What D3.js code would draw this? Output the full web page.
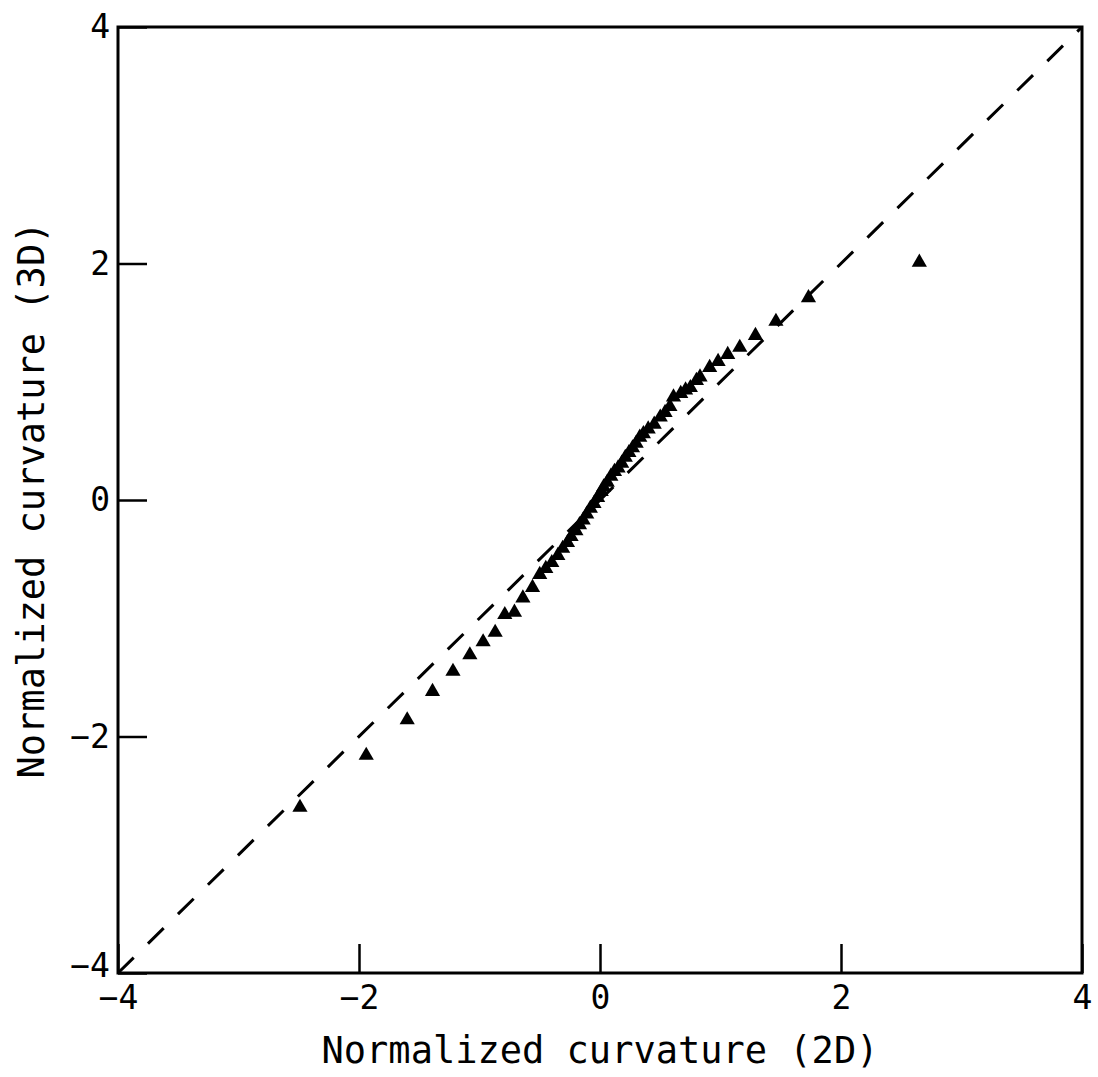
<!DOCTYPE html>
<meta charset="utf-8">
<style>
body { margin: 0; background: #fff; }
svg { display: block; }
.axis text {
  font-family: "DejaVu Sans Mono", monospace;
  font-size: 33px;
  fill: #000;
}
.axis line { stroke: #000; stroke-width: 2.5px; }
.axis .domain { display: none; }
.title {
  font-family: "DejaVu Sans Mono", monospace;
  font-size: 37px;
  fill: #000;
}
</style>
<html>
  <head>
    <script src="https://cdn.jsdelivr.net/npm/d3@7"></script>
  </head>
  <body>
    <script>
var width = 1098
  , height = 1077
  , margin = {top: 27, right: 16, bottom: 104, left: 118}

// tick values used on both axes
var tickVals = [-4, -2, 0, 2, 4];

// 2D curvature (x) against 3D curvature (y)
var curv2D = [2.65, 1.73, 1.46, 1.29, 1.16, 1.06, 0.98, 0.91, 0.83, 0.80, 0.75, 0.71, 0.67, 0.61,
              0.58, 0.54, 0.50, 0.45, 0.40, 0.36, 0.33, 0.30, 0.27, 0.24, 0.21, 0.18, 0.15, 0.12,
              0.09, 0.06, 0.03, 0.01, -0.02, -0.05, -0.08, -0.11, -0.14, -0.17, -0.20, -0.24,
              -0.27, -0.31, -0.35, -0.40, -0.45, -0.50, -0.56, -0.64, -0.71, -0.79, -0.87,
              -0.97, -1.08, -1.22, -1.39, -1.60, -1.94, -2.49];
var curv3D = [2.01, 1.71, 1.51, 1.39, 1.29, 1.23, 1.17, 1.12, 1.04, 1.01, 0.95, 0.93, 0.90, 0.87,
              0.79, 0.74, 0.70, 0.64, 0.60, 0.56, 0.53, 0.48, 0.44, 0.40, 0.36, 0.31, 0.27, 0.24,
              0.20, 0.15, 0.11, 0.07, 0.02, -0.03, -0.07, -0.12, -0.17, -0.21, -0.26, -0.31,
              -0.36, -0.41, -0.47, -0.53, -0.58, -0.63, -0.74, -0.83, -0.95, -0.97, -1.12,
              -1.20, -1.31, -1.45, -1.62, -1.86, -2.16, -2.60];

// the dashed reference line y = x
var refLine = [[-4, -4], [4, 4]];

var svg = d3.select("body").append("svg")
    .attr("width", width)
    .attr("height", height);

var x = d3.scaleLinear().domain([-4, 4]).range([margin.left, width - margin.right]);
var y = d3.scaleLinear().domain([-4, 4]).range([height - margin.bottom, margin.top]);

// axes, ticks point inward
svg.append("g")
    .attr("class", "axis")
    .attr("transform", "translate(0," + y(-4) + ")")
    .call(d3.axisBottom(x).tickValues(tickVals).tickSize(-29).tickPadding(13));

var yAxis = svg.append("g")
    .attr("class", "axis")
    .attr("transform", "translate(" + x(-4) + ",0)")
    .call(d3.axisLeft(y).tickValues(tickVals).tickSize(-29).tickPadding(8));

// lift the bottom y label a touch so it clears the x label below it
yAxis.selectAll(".tick text")
    .filter(function(d) { return d === -4; })
    .attr("dy", "0.1em");

// frame
svg.append("rect")
    .attr("x", x(-4)).attr("y", y(4))
    .attr("width", x(4) - x(-4)).attr("height", y(-4) - y(4))
    .attr("fill", "none").attr("stroke", "#000").attr("stroke-width", 3);

// dashed diagonal
svg.append("path")
    .datum(refLine)
    .attr("d", d3.line().x(function(d) { return x(d[0]); }).y(function(d) { return y(d[1]); }))
    .attr("fill", "none")
    .attr("stroke", "#000")
    .attr("stroke-width", 3)
    .attr("stroke-dasharray", "22,20");

// triangles
var tri = d3.symbol().type(d3.symbolTriangle).size(100);
svg.append("g").selectAll("path")
    .data(curv2D)
    .enter().append("path")
    .attr("d", tri)
    .attr("transform", function(d, i) { return "translate(" + x(d) + "," + y(curv3D[i]) + ")"; })
    .attr("fill", "#000");

// axis titles
svg.append("text")
    .attr("class", "title")
    .attr("x", x(0))
    .attr("y", 1063)
    .attr("text-anchor", "middle")
    .text("Normalized curvature (2D)");

svg.append("text")
    .attr("class", "title")
    .attr("transform", "translate(44," + y(0) + ") rotate(-90)")
    .attr("text-anchor", "middle")
    .text("Normalized curvature (3D)");
    </script>
  </body>
</html>
